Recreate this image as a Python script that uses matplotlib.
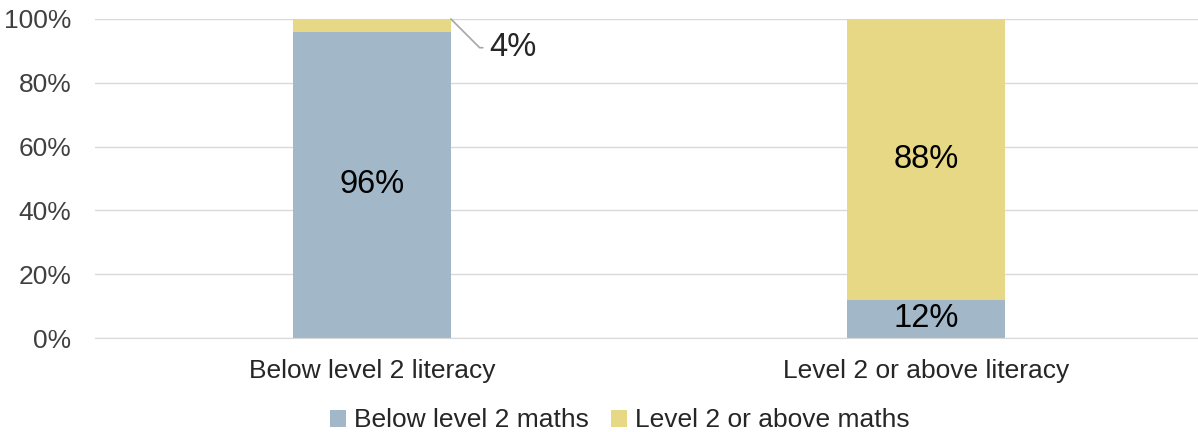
import matplotlib.pyplot as plt
import numpy as np

plt.rcParams['font.family'] = ['Liberation Sans', 'DejaVu Sans']

categories = ['Below level 2 literacy', 'Level 2 or above literacy']
below_maths = [96, 12]
above_maths = [4, 88]
series_names = ['Below level 2 maths', 'Level 2 or above maths']
colors = ['#A2B8C8', '#E6D885']

fig = plt.figure(figsize=(11.98, 4.32), dpi=100)
ax = fig.add_axes([95 / 1198, 1 - 338 / 432, 1108 / 1198, 319 / 432])

x = np.arange(len(categories))
w = 0.285
b1 = ax.bar(x, below_maths, w, color=colors[0], label=series_names[0], zorder=2)
b2 = ax.bar(x, above_maths, w, bottom=below_maths, color=colors[1], label=series_names[1], zorder=2)

# data labels
lab_size = 23.5
ax.text(x[0], below_maths[0] / 2, f'{below_maths[0]}%', ha='center', va='center', fontsize=lab_size, color='black', zorder=3)
ax.text(x[1], below_maths[1] / 2, f'{below_maths[1]}%', ha='center', va='center', fontsize=lab_size, color='black', zorder=3)
ax.text(x[1], below_maths[1] + above_maths[1] / 2, f'{above_maths[1]}%', ha='center', va='center',
        fontsize=lab_size, color='black', zorder=3)
# small segment label with leader line
ax.annotate(f'{above_maths[0]}%', xy=(x[0] + w / 2, 100), xytext=(x[0] + w / 2 + 0.07, 91),
            ha='left', va='center', fontsize=lab_size, color='#262626',
            arrowprops=dict(arrowstyle='-', color='#A6A6A6', lw=1.2,
                            connectionstyle='angle,angleA=0,angleB=-45,rad=0',
                            shrinkA=3, shrinkB=0))

ax.set_xlim(-0.5, 1.5)
ax.set_ylim(0, 100)
ax.set_yticks(np.arange(0, 101, 20))
ax.set_yticklabels([f'{v}%' for v in range(0, 101, 20)])
ax.set_xticks(x)
ax.set_xticklabels(categories)
ax.tick_params(axis='y', labelsize=19, colors='#404040', length=0, pad=17)
ax.tick_params(axis='x', labelsize=19, colors='#262626', length=0, pad=15)
ax.grid(axis='y', color='#D9D9D9', lw=1, zorder=0)
for s in ['top', 'right', 'left']:
    ax.spines[s].set_visible(False)
ax.spines['bottom'].set_color('#D9D9D9')

leg = fig.legend(handles=[b1, b2], labels=series_names, loc='lower center', bbox_to_anchor=(0.5175, -0.056),
                 ncol=2, frameon=False, fontsize=19, handlelength=0.6, handleheight=0.6,
                 handletextpad=0.3, columnspacing=0.85)
for t in leg.get_texts():
    t.set_color('#262626')

fig.savefig('out.png', dpi=100)
